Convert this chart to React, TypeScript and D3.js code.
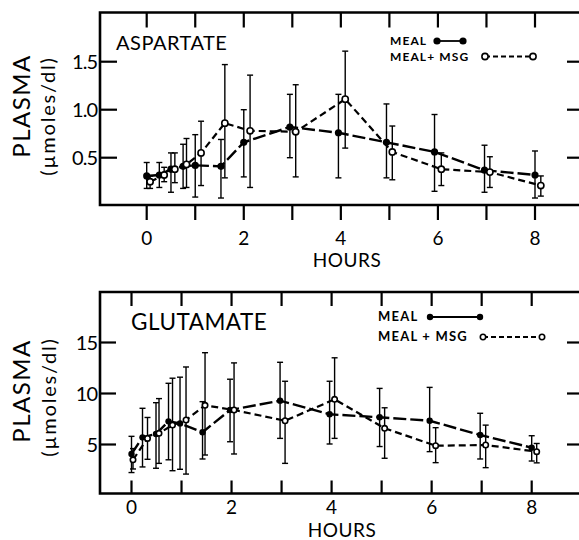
import React from "react";
import * as d3 from "d3";

// ---------- data ----------
const hourTicks = [0, 1, 2, 3, 4, 5, 6, 7, 8];
const hourLabels = ["0", "2", "4", "6", "8"];
const aspTicks = [0.5, 1.0, 1.5];
const aspTickLabels = ["0.5", "1.0", "1.5"];
const gluTicks = [5, 10, 15];
const gluTickLabels = ["5", "10", "15"];

const aspMealT = [0, 0.26, 0.5, 0.75, 1.0, 1.53, 2.0, 2.95, 3.95, 4.94, 5.93, 6.96, 8.0];
const aspMealV = [0.31, 0.32, 0.38, 0.41, 0.42, 0.41, 0.66, 0.82, 0.76, 0.66, 0.56, 0.37, 0.32];
const aspMealLo = [0.18, 0.19, 0.14, 0.18, 0.09, 0.08, 0.3, 0.5, 0.29, 0.29, 0.15, 0.14, 0.08];
const aspMealHi = [0.45, 0.45, 0.55, 0.64, 0.74, 0.69, 1.0, 1.16, 1.16, 1.06, 0.95, 0.63, 0.57];

const aspMsgT = [0.07, 0.36, 0.58, 0.82, 1.12, 1.61, 2.13, 3.07, 4.09, 5.06, 6.07, 7.07, 8.12];
const aspMsgV = [0.25, 0.32, 0.38, 0.43, 0.55, 0.86, 0.78, 0.77, 1.11, 0.56, 0.38, 0.35, 0.21];
const aspMsgLo = [0.18, 0.25, 0.24, 0.19, 0.21, 0.29, 0.19, 0.3, 0.6, 0.27, 0.21, 0.19, 0.1];
const aspMsgHi = [0.31, 0.4, 0.55, 0.7, 0.88, 1.47, 1.36, 1.26, 1.61, 0.83, 0.55, 0.51, 0.31];

const gluMealT = [0, 0.22, 0.49, 0.74, 0.97, 1.42, 1.97, 2.97, 3.96, 4.96, 5.96, 6.97, 8.0];
const gluMealV = [4.07, 5.7, 6.03, 7.27, 7.07, 6.2, 8.38, 9.3, 7.96, 7.67, 7.33, 5.93, 4.69];
const gluMealLo = [2.25, 2.8, 2.67, 3.5, 2.57, 3.58, 5.27, 5.6, 5.05, 4.8, 4.3, 3.58, 3.38];
const gluMealHi = [5.8, 8.55, 9.1, 11.0, 11.6, 9.2, 11.4, 13.06, 11.2, 10.5, 10.6, 8.06, 5.86];

const gluMsgT = [0.03, 0.32, 0.55, 0.82, 1.09, 1.47, 2.05, 3.07, 4.06, 5.06, 6.08, 7.08, 8.1];
const gluMsgV = [3.5, 5.6, 6.1, 6.9, 7.4, 8.84, 8.38, 7.33, 9.43, 6.59, 4.88, 4.95, 4.3];
const gluMsgLo = [2.6, 3.55, 3.15, 2.43, 2.1, 3.97, 4.07, 3.15, 5.6, 3.65, 3.22, 2.73, 3.2];
const gluMsgHi = [4.6, 7.65, 9.5, 11.5, 12.6, 14.0, 13.0, 11.2, 13.5, 8.6, 6.65, 6.9, 5.1];

const FONT = "Lato, 'DejaVu Sans', sans-serif";

type Series = { t: number[]; v: number[]; lo: number[]; hi: number[] };

function zip(s: Series) {
  return s.t.map((t, i) => ({ t, v: s.v[i], lo: s.lo[i], hi: s.hi[i] }));
}

type PanelProps = {
  title: string;
  meal: Series;
  msg: Series;
  yDomain: [number, number];
  yTicks: number[];
  yTickLabels: string[];
  frame: { left: number; top: number; bottom: number; right: number };
  xRange: [number, number];
  yRange: [number, number];
  titlePos: { x: number; y: number; size: number };
  legend: {
    x: number;
    y1: number;
    y2: number;
    l1: [number, number];
    l2: [number, number];
    label2: string;
    size: number;
    spacing: number;
  };
  ticksOutBottom: boolean;
  tickLen: number;
  xLabelY: number;
  hoursY: number;
  hoursX: number;
  plasma: { x: number; y: number };
  units: { x: number; y: number };
  r: number;
};

function Panel(p: PanelProps) {
  const x = d3.scaleLinear().domain([0, 8]).range(p.xRange);
  const y = d3.scaleLinear().domain(p.yDomain).range(p.yRange);
  const line = d3
    .line<{ t: number; v: number }>()
    .x((d) => x(d.t))
    .y((d) => y(d.v));
  const meal = zip(p.meal);
  const msg = zip(p.msg);
  const { left, top, bottom, right } = p.frame;
  const cap = 3;
  const errBars = (pts: ReturnType<typeof zip>, key: string) =>
    pts.map((d, i) => (
      <g key={key + i} stroke="#000" strokeWidth={1.4}>
        <line x1={x(d.t)} x2={x(d.t)} y1={y(d.lo)} y2={y(d.hi)} />
        <line x1={x(d.t) - cap} x2={x(d.t) + cap} y1={y(d.lo)} y2={y(d.lo)} />
        <line x1={x(d.t) - cap} x2={x(d.t) + cap} y1={y(d.hi)} y2={y(d.hi)} />
      </g>
    ));
  const L = p.legend;
  return (
    <g>
      {/* frame */}
      <path
        d={`M${right},${top}H${left}V${bottom}H${right}`}
        fill="none"
        stroke="#000"
        strokeWidth={2.6}
      />
      {/* x ticks */}
      {hourTicks.map((h) => (
        <g key={"xt" + h} stroke="#000" strokeWidth={2.2}>
          <line x1={x(h)} x2={x(h)} y1={top} y2={top + p.tickLen} />
          {p.ticksOutBottom ? (
            <line x1={x(h)} x2={x(h)} y1={bottom} y2={bottom + 15} />
          ) : (
            <line x1={x(h)} x2={x(h)} y1={bottom} y2={bottom - 13} />
          )}
        </g>
      ))}
      {hourLabels.map((lab, i) => (
        <text
          key={"xl" + i}
          x={x(+lab)}
          y={p.xLabelY}
          textAnchor="middle"
          fontFamily={FONT}
          fontSize={19}
        >
          {lab}
        </text>
      ))}
      <text x={p.hoursX} y={p.hoursY} textAnchor="middle" fontFamily={FONT} fontSize={19} letterSpacing={0.5}>
        HOURS
      </text>
      {/* y ticks */}
      {p.yTicks.map((v, i) => (
        <g key={"yt" + i}>
          <line x1={left} x2={left + p.tickLen + 2} y1={y(v)} y2={y(v)} stroke="#000" strokeWidth={2.2} />
          <line x1={right - 16} x2={right} y1={y(v)} y2={y(v)} stroke="#000" strokeWidth={2.2} />
          <text
            x={left - 3}
            y={y(v)}
            dy="0.36em"
            textAnchor="end"
            fontFamily={FONT}
            fontSize={20}
            letterSpacing={-1}
          >
            {p.yTickLabels[i]}
          </text>
        </g>
      ))}
      {/* y labels */}
      <text
        transform={`translate(${p.plasma.x},${p.plasma.y}) rotate(-90)`}
        textAnchor="middle"
        fontFamily={FONT}
        fontSize={24}
        letterSpacing={1.5}
        dy="0.36em"
      >
        PLASMA
      </text>
      <text
        transform={`translate(${p.units.x},${p.units.y}) rotate(-90)`}
        textAnchor="middle"
        fontFamily={FONT}
        fontSize={20}
        letterSpacing={1.8}
        dy="0.36em"
      >
        (µmoles/dl)
      </text>
      {/* title */}
      <text x={p.titlePos.x} y={p.titlePos.y} fontFamily={FONT} fontSize={p.titlePos.size} letterSpacing={0.5}>
        {p.title}
      </text>
      {/* legend */}
      <text x={L.x} y={L.y1} fontFamily={FONT} fontSize={L.size} fontWeight="bold" letterSpacing={L.spacing}>
        MEAL
      </text>
      <line x1={L.l1[0]} x2={L.l1[1]} y1={L.y1 - 4} y2={L.y1 - 4} stroke="#000" strokeWidth={1.8} />
      <circle cx={L.l1[0]} cy={L.y1 - 4} r={p.r} fill="#000" />
      <circle cx={L.l1[1]} cy={L.y1 - 4} r={p.r} fill="#000" />
      <text x={L.x} y={L.y2} fontFamily={FONT} fontSize={L.size} fontWeight="bold" letterSpacing={L.spacing}>
        {L.label2}
      </text>
      <line
        x1={L.l2[0]}
        x2={L.l2[1]}
        y1={L.y2 - 4}
        y2={L.y2 - 4}
        stroke="#000"
        strokeWidth={1.8}
        strokeDasharray="5,3"
      />
      <circle cx={L.l2[0]} cy={L.y2 - 4} r={p.r - 0.5} fill="#fff" stroke="#000" strokeWidth={1.6} />
      <circle cx={L.l2[1]} cy={L.y2 - 4} r={p.r - 0.5} fill="#fff" stroke="#000" strokeWidth={1.6} />
      {/* error bars */}
      {errBars(meal, "em")}
      {errBars(msg, "es")}
      {/* lines */}
      <path d={line(meal) || ""} fill="none" stroke="#000" strokeWidth={2.4} strokeDasharray="13,4" />
      <path d={line(msg) || ""} fill="none" stroke="#000" strokeWidth={2.2} strokeDasharray="7,4" />
      {/* markers */}
      {meal.map((d, i) => (
        <circle key={"m" + i} cx={x(d.t)} cy={y(d.v)} r={p.r} fill="#000" />
      ))}
      {msg.map((d, i) => (
        <circle key={"s" + i} cx={x(d.t)} cy={y(d.v)} r={p.r - 0.5} fill="#fff" stroke="#000" strokeWidth={1.6} />
      ))}
    </g>
  );
}

export default function App() {
  return (
    <svg
      width={579}
      height={540}
      viewBox="0 0 579 540"
      style={{ position: "absolute", left: 0, top: 0, background: "#fff" }}
    >
      <rect x={0} y={0} width={579} height={540} fill="#fff" />
      <Panel
        title="ASPARTATE"
        meal={{ t: aspMealT, v: aspMealV, lo: aspMealLo, hi: aspMealHi }}
        msg={{ t: aspMsgT, v: aspMsgV, lo: aspMsgLo, hi: aspMsgHi }}
        yDomain={[0, 2]}
        yTicks={aspTicks}
        yTickLabels={aspTickLabels}
        frame={{ left: 100, top: 12.5, bottom: 205, right: 583 }}
        xRange={[146.7, 535]}
        yRange={[205.7, 13.7]}
        titlePos={{ x: 116, y: 50, size: 20 }}
        legend={{ x: 390, y1: 45, y2: 60.5, l1: [437, 463], l2: [485, 533], label2: "MEAL+ MSG", size: 12, spacing: 1.1 }}
        ticksOutBottom={true}
        tickLen={15}
        xLabelY={245}
        hoursY={267}
        hoursX={347}
        plasma={{ x: 21, y: 106 }}
        units={{ x: 48, y: 116 }}
        r={3.6}
      />
      <Panel
        title="GLUTAMATE"
        meal={{ t: gluMealT, v: gluMealV, lo: gluMealLo, hi: gluMealHi }}
        msg={{ t: gluMsgT, v: gluMsgV, lo: gluMsgLo, hi: gluMsgHi }}
        yDomain={[0, 20]}
        yTicks={gluTicks}
        yTickLabels={gluTickLabels}
        frame={{ left: 100, top: 292, bottom: 493.5, right: 583 }}
        xRange={[131.5, 531.7]}
        yRange={[495.5, 291.5]}
        titlePos={{ x: 131, y: 330, size: 22.5 }}
        legend={{ x: 378, y1: 321, y2: 341, l1: [430, 480], l2: [483, 542], label2: "MEAL + MSG", size: 13, spacing: 1.2 }}
        ticksOutBottom={false}
        tickLen={14}
        xLabelY={514}
        hoursY={537}
        hoursX={342}
        plasma={{ x: 21, y: 391 }}
        units={{ x: 49, y: 397 }}
        r={3.2}
      />
    </svg>
  );
}
